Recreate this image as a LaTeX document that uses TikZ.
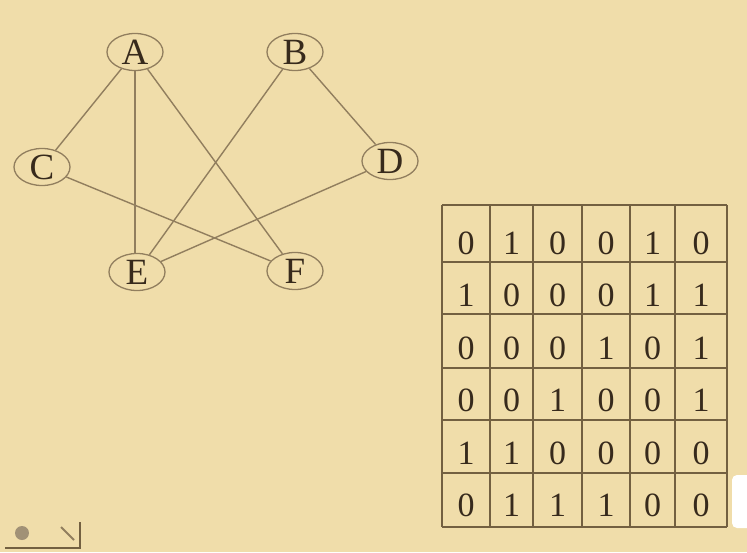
\documentclass[tikz,border=0pt]{standalone}
\usepackage{fontspec}
\setmainfont{Liberation Serif}
\usetikzlibrary{shapes.geometric}
\definecolor{paper}{RGB}{240,221,170}
\definecolor{ink}{RGB}{55,42,28}
\definecolor{edgecol}{RGB}{145,126,94}
\definecolor{gridcol}{RGB}{115,96,65}
\begin{document}
\begin{tikzpicture}[x=1pt,y=-1pt,
  vert/.style={draw=edgecol,line width=1.3pt,ellipse,minimum width=56pt,minimum height=37pt,inner sep=0pt,text=ink,font=\fontsize{37}{37}\selectfont},
  conn/.style={draw=edgecol,line width=1.4pt},
  cell/.style={text=ink,font=\fontsize{34}{34}\selectfont,inner sep=0pt}]
\useasboundingbox (0,0) rectangle (747,552);
\fill[paper] (0,0) rectangle (747,552);
% graph
\node[vert] (A) at (135,52) {A};
\node[vert] (B) at (295,52) {B};
\node[vert] (C) at (42,167) {C};
\node[vert] (D) at (390,161) {D};
\node[vert] (E) at (137,272) {E};
\node[vert] (F) at (295,271) {F};
\draw[conn] (A) -- (C);
\draw[conn] (A.south) -- (A.south |- E.north);
\draw[conn] (A) -- (F);
\draw[conn] (B) -- (E);
\draw[conn] (B) -- (D);
\draw[conn] (C) -- (F);
\draw[conn] (D) -- (E);
% matrix grid
\def\xs{442,490,533,582,630,675,727}
\def\ys{205,262,314,368,420,473,527}
\foreach \x in \xs {\draw[gridcol,line width=2pt] (\x,205) -- (\x,527);}
\foreach \y in \ys {\draw[gridcol,line width=2pt] (442,\y) -- (727,\y);}
\newcommand{\mrow}[7]{%
  \node[cell] (m#1a) at (466,#2) {#3};
  \node[cell] (m#1b) at (511.5,#2) {#4};
  \node[cell] (m#1c) at (557.5,#2) {#5};
  \node[cell] (m#1d) at (606,#2) {#6};
  \node[cell] (m#1e) at (652.5,#2) {#7};}
\mrow{1}{243}{0}{1}{0}{0}{1}\node[cell] (m1f) at (701,243) {0};
\mrow{2}{295}{1}{0}{0}{0}{1}\node[cell] (m2f) at (701,295) {1};
\mrow{3}{348}{0}{0}{0}{1}{0}\node[cell] (m3f) at (701,348) {1};
\mrow{4}{400}{0}{0}{1}{0}{0}\node[cell] (m4f) at (701,400) {1};
\mrow{5}{453}{1}{1}{0}{0}{0}\node[cell] (m5f) at (701,453) {0};
\mrow{6}{505}{0}{1}{1}{1}{0}\node[cell] (m6f) at (701,505) {0};
% bottom-left icon
\draw[gridcol,line width=2.5pt] (5,548) -- (80,548) -- (80,522);
\fill[edgecol!85] (22,533) circle (7pt);
\draw[edgecol,line width=1.8pt] (61,527) -- (74,540);
% right-edge overlay
\fill[white,rounded corners=5pt] (732,475) rectangle (760,528);
\end{tikzpicture}
\end{document}
